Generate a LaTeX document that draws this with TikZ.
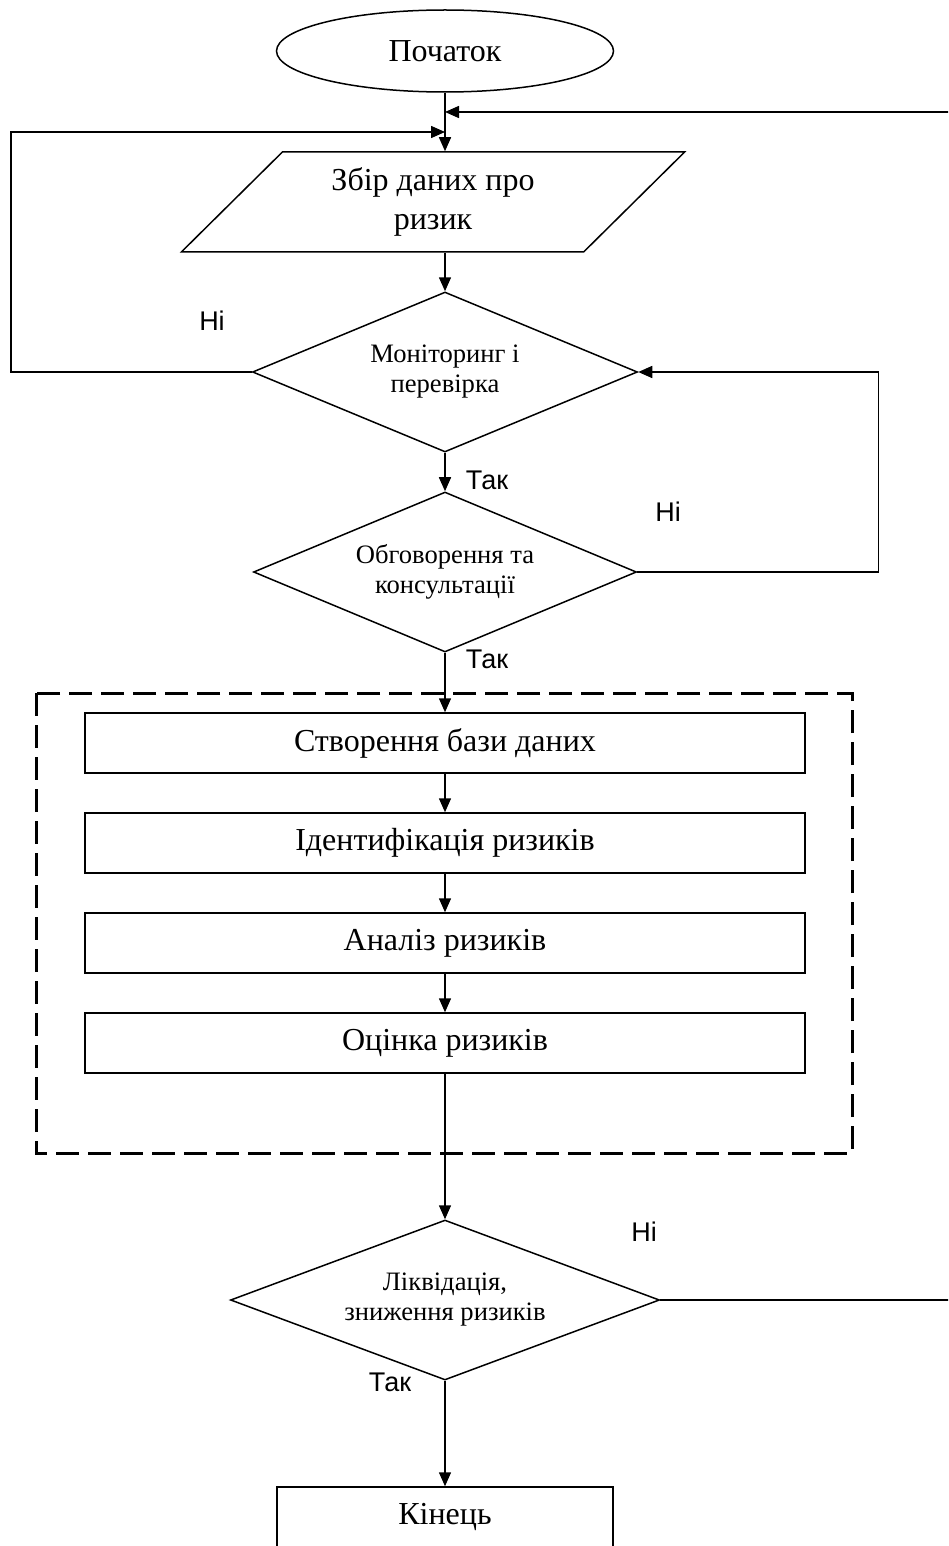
\documentclass[tikz,border=0pt]{standalone}
\usepackage{fontspec}
\setmainfont{Liberation Serif}
\newfontfamily\labelfont{Liberation Sans}
\usetikzlibrary{arrows.meta, shapes.geometric}

\tikzset{
  line/.style = {line width=0.75pt, >={Triangle[length=7pt, width=6pt]}},
  box/.style = {draw, line width=0.75pt, minimum width=360pt, minimum height=30pt,
    font=\fontsize{16}{19}\selectfont},
  cond/.style = {draw, diamond, line width=0.75pt, aspect=2.4, inner sep=0pt,
    minimum height=80pt, align=center, font=\fontsize{13.3}{15}\selectfont},
  yesno/.style = {font=\labelfont\fontsize{13.5}{15}\selectfont},
  dashbox/.style = {line width=1.5pt, dash pattern=on 11.5pt off 4.5pt},
}

\begin{document}
\begin{tikzpicture}[x=0.5pt, y=-0.5pt, line]
    \path [use as bounding box, clip] (0, 0) rectangle (948, 1546);
%    \draw [help lines] (0, 0) grid (948, 1546);
    \node [draw, ellipse, line width=0.75pt, minimum width=168.5pt, minimum height=41pt,
      font=\fontsize{16}{19}\selectfont] (start) at (445, 51) {Початок};
    \node [draw, trapezium, trapezium left angle=48.5, trapezium right angle=131.5,
      trapezium stretches=true, minimum width=252pt, minimum height=50pt, align=center,
      font=\fontsize{16}{19.5}\selectfont] (data) at (433, 202) {Збір даних про\\ризик};
    \node [cond, minimum width=192.5pt] (mon) at (445, 372) {Моніторинг і\\перевірка};
    \node [cond, minimum width=191.5pt] (disc) at (445, 572) {Обговорення та\\консультації};
    \foreach \n/\txt/\y in {1/Створення бази даних/743, 2/Ідентифікація ризиків/843,
                            3/Аналіз ризиків/943, 4/Оцінка ризиків/1043} {
      \node [box] (b\n) at (445, \y) {\txt};
    }
    \draw [dashbox] (36, 693) rectangle (852, 1153);
    \node [cond, minimum width=214.5pt] (liq) at (445, 1300) {Ліквідація,\\зниження ризиків};
    \node [box, minimum width=168pt] (end) at (445, 1517) {Кінець};

    \coordinate (jr) at (445, 112);
    \coordinate (jl) at (445, 132);
    \draw [->] (start) -- (start |- data.north);
    \draw [->] (start |- data.south) -- (mon);
    \draw [->] (mon) -- (disc);
    \draw [->] (disc) -- (b1);
    \foreach \a/\b in {1/2, 2/3, 3/4} {
      \draw [->] (b\a) -- (b\b);
    }
    \draw [->] (b4) -- (liq);
    \draw [->] (liq) -- (end);
    \draw [->] (mon.west) -- ++(-241, 0) |- (jl);
    \draw [->] (disc.east) -- ++(241, 0) |- (mon.east);
    \draw [->] (liq.east) -- ++(330, 0) |- (jr);

    \node [yesno] (no1) at (212, 321) {Ні};
    \node [yesno] (yes1) at (487, 480) {Так};
    \node [yesno] (no2) at (668, 512) {Ні};
    \node [yesno] (yes2) at (487, 659) {Так};
    \node [yesno] (no3) at (644, 1232) {Ні};
    \node [yesno] (yes3) at (390, 1382) {Так};
  \end{tikzpicture}
\end{document}
